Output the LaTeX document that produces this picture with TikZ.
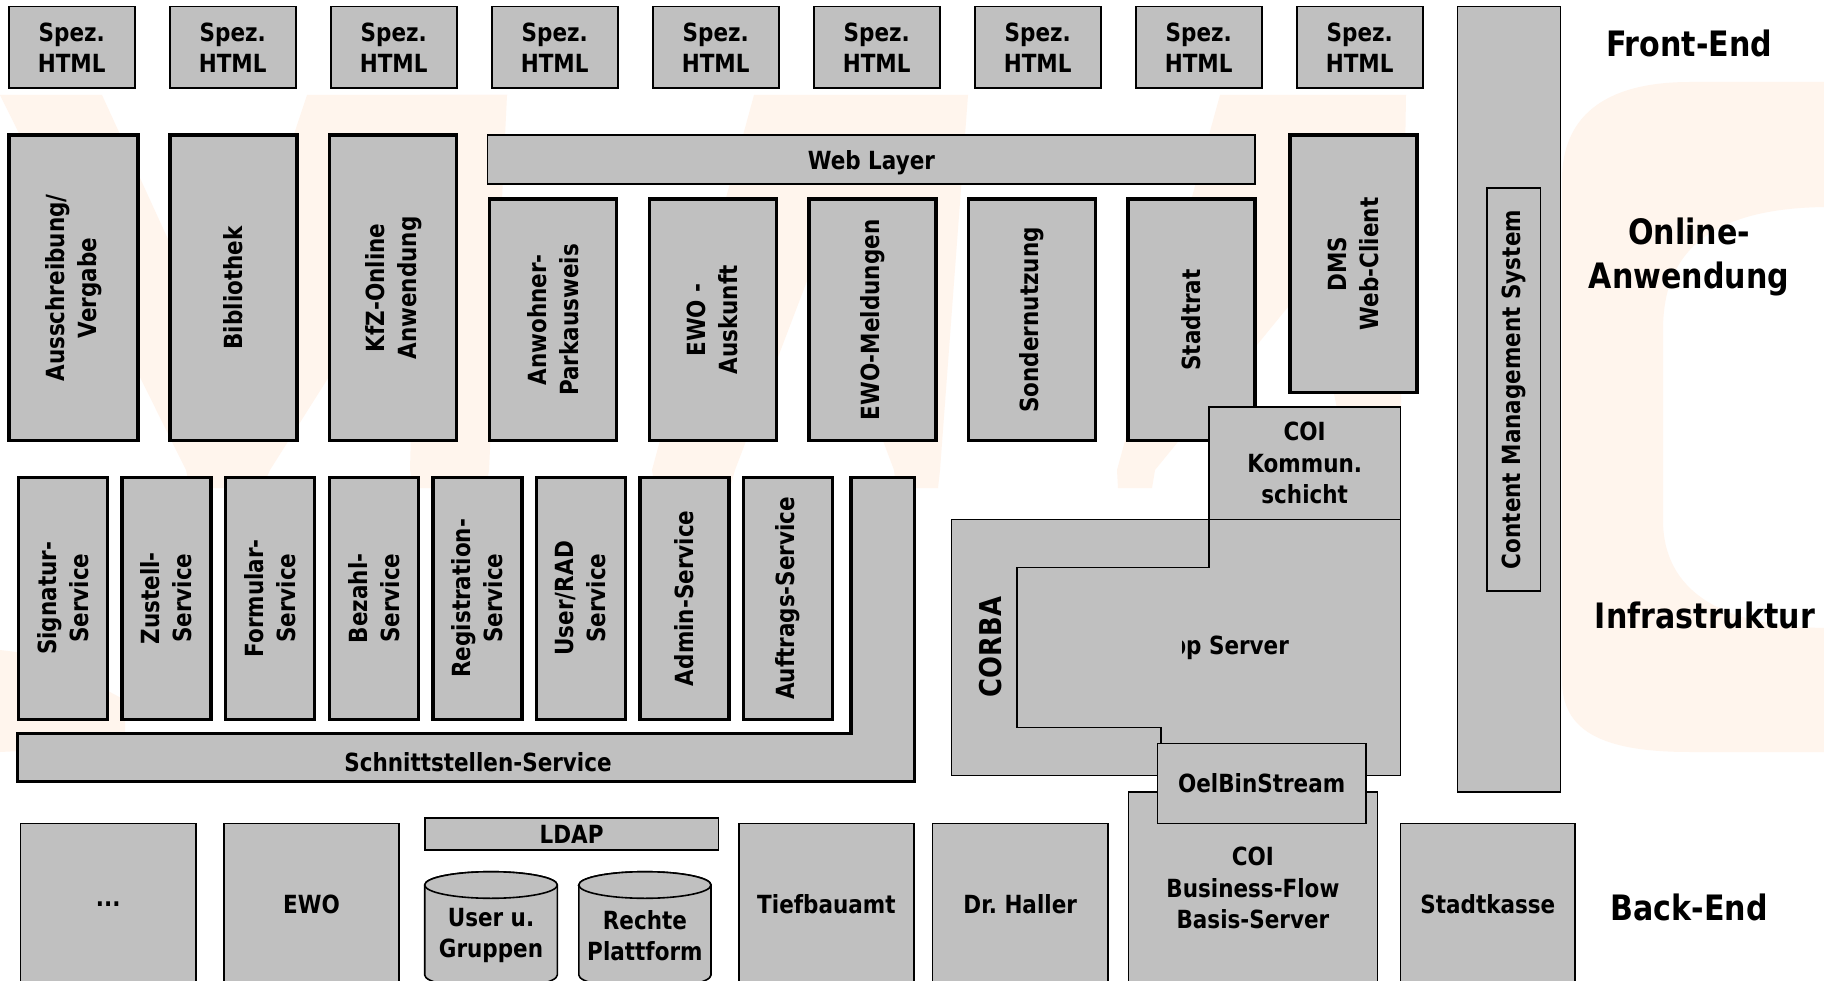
\documentclass[tikz,border=0pt]{standalone}
\usepackage{fontspec}
\newfontfamily\dvb[FakeStretch=0.86]{DejaVu Sans Bold}
\definecolor{boxgrey}{RGB}{192,192,192}
\definecolor{wmark}{RGB}{255,245,237}
\tikzset{
  base/.style={draw=black, fill=boxgrey, inner sep=0pt, align=center,
    font=\dvb\fontsize{25}{31.5}\selectfont},
  thinbox/.style={base, line width=1.6pt},
  thickbox/.style={base, line width=3.5pt},
  vtext/.style={rotate=90, align=center, inner sep=0pt,
    font=\dvb\fontsize{25}{32}\selectfont},
  htext/.style={align=center, inner sep=0pt,
    font=\dvb\fontsize{25}{31.5}\selectfont},
  layerlabel/.style={align=center, inner sep=0pt,
    font=\dvb\fontsize{35}{44}\selectfont},
  thinline/.style={draw=black, fill=boxgrey, line width=1.6pt},
  thickline/.style={draw=black, fill=boxgrey, line width=3.5pt},
}
\begin{document}
\begin{tikzpicture}[x=1pt,y=-1pt]
\useasboundingbox (0,0) rectangle (1824,981);
\clip (0,0) rectangle (1824,981);
\fill[white] (0,0) rectangle (1824,981);

% ---------- watermark ----------
\fill[wmark] (0,95) -- (102,95) -- (221,355) -- (307,95) -- (507,95) -- (270,470)
  -- (262,488) -- (190,488) -- (186,470) -- cycle;
\fill[wmark] (0,650) -- (40,655) -- (125,700) -- (125,740) -- (40,750) -- (0,752) -- cycle;
\fill[wmark] (420,95) -- (507,95) -- (489,470) -- (486,488) -- (414,488) -- (410,470) -- cycle;
\fill[wmark] (754,95) -- (968,95) -- (940,470) -- (938,488) -- (896,488) -- (894,470)
  -- (815,260) -- (735,470) -- (730,488) -- (655,488) -- (652,470) -- cycle;
\fill[wmark] (1220,95) -- (1406,95) -- (1400,470) -- (1398,488) -- (1352,488) -- (1350,470)
  -- (1310,280) -- (1155,470) -- (1152,488) -- (1118,488) -- (1117,470) -- cycle;
\fill[wmark, even odd rule]
  (1900,82) -- (1690,82) .. controls (1600,82) and (1562,120) .. (1562,180)
  -- (1562,680) .. controls (1562,730) and (1600,752) .. (1690,752) -- (1900,752) -- cycle
  (1900,207) -- (1830,207) .. controls (1700,207) and (1663,260) .. (1663,330)
  -- (1663,520) .. controls (1663,590) and (1720,628) .. (1830,628) -- (1900,628) -- cycle;

% ---------- Front-End row ----------
\foreach \i in {0,...,8} {
  \node[thinbox, minimum width=126pt, minimum height=81.6pt] (spez\i)
    at ({71.7+161*\i},47.5) {Spez.\\HTML};
}

% ---------- CMS ----------
\node[thinbox, minimum width=103pt, minimum height=785pt] (cms) at (1509.1,399.2) {};
\node[thinbox, minimum width=53.6pt, minimum height=402.4pt] (cmsin) at (1513.5,389.5) {};
\node[vtext] (cmst) at (cmsin.center) {Content Management System};

% ---------- Online applications ----------
\node[thickbox, minimum width=129pt, minimum height=305.7pt] (ausb) at (73.3,287.9) {};
\node[vtext] (ausbt) at (ausb.center) {Ausschreibung/\\Vergabe};
\node[thickbox, minimum width=127pt, minimum height=305.7pt] (bib) at (233.3,287.9) {};
\node[vtext] (bibt) at (bib.center) {Bibliothek};
\node[thickbox, minimum width=127pt, minimum height=305.7pt] (kfz) at (393.2,287.9) {};
\node[vtext] (kfzt) at (kfz.center) {KfZ-Online\\Anwendung};

\node[thinbox, minimum width=767.7pt, minimum height=49pt] (web) at (871.4,159.5) {};
\node[htext] (webt) at (871.4,163) {Web Layer};

\node[thickbox, minimum width=127pt, minimum height=241.7pt] (anw) at (553.2,319.9) {};
\node[vtext] (anwt) at (anw.center) {Anwohner-\\Parkausweis};
\node[thickbox, minimum width=127pt, minimum height=241.7pt] (ewoa) at (712.8,319.9) {};
\node[vtext] (ewoat) at (ewoa.center) {EWO -\\Auskunft};
\node[thickbox, minimum width=127pt, minimum height=241.7pt] (ewom) at (872.4,319.9) {};
\node[vtext] (ewomt) at (ewom.center) {EWO-Meldungen};
\node[thickbox, minimum width=127pt, minimum height=241.7pt] (sond) at (1032,319.9) {};
\node[vtext] (sondt) at (sond.center) {Sondernutzung};
\node[thickbox, minimum width=127pt, minimum height=241.7pt] (stadt) at (1191.6,319.9) {};
\node[vtext] (stadtt) at (stadt.center) {Stadtrat};

\node[thickbox, minimum width=127pt, minimum height=257.7pt] (dms) at (1353.5,263.9) {};
\node[vtext] (dmst) at (dms.center) {DMS\\Web-Client};

% ---------- Infrastructure ----------
\node[thinbox, minimum width=191.9pt, minimum height=112pt] (coik) at (1304.7,463.3)
  {COI\\Kommun.\\schicht};

\foreach \i/\t in {0/{Signatur-\\Service}, 1/{Zustell-\\Service}, 2/{Formular-\\Service},
  3/{Bezahl-\\Service}, 4/{Registration-\\Service}, 5/{User/RAD\\Service},
  6/{Admin-Service}, 7/{Auftrags-Service}} {
  \node[thickbox, minimum width=89pt, minimum height=242pt] (svc\i)
    at ({63.1+103.55*\i},598.3) {};
  \node[vtext] (svct\i) at (svc\i.center) {\t};
}

\draw[thickline] (17.5,733.3) -- (851.1,733.3) -- (851.1,477.3) -- (914.4,477.3)
  -- (914.4,781.7) -- (17.5,781.7) -- cycle;
\node[htext] (schnitt) at (478,762.5) {Schnittstellen-Service};

\node[thinbox, minimum width=449pt, minimum height=256pt] (corba) at (1176.1,647.3) {};
\node[vtext, font=\dvb\fontsize{30}{36}\selectfont] (corbat) at (991,647) {CORBA};

\draw[thinline] (1208.7,519.3) -- (1208.7,567.3) -- (1016.7,567.3) -- (1016.7,727.3)
  -- (1161,727.3) -- (1161,775.3) -- (1400.6,775.3) -- (1400.6,519.3) -- cycle;
\begin{scope}
  \clip (1182,610) rectangle (1400,690);
  \node[htext] (appsrv) at (1221.5,648) {App Server};
\end{scope}

% ---------- Back-End ----------
\node[thinbox, minimum width=249pt, minimum height=199.3pt] (coib) at (1252.9,891.4) {};
\node[htext] (coibt) at (1252.9,888) {COI\\Business-Flow\\Basis-Server};
\node[thinbox, minimum width=208.2pt, minimum height=80pt] (oel) at (1261.6,783.3) {OelBinStream};

\node[thinbox, minimum width=175.6pt, minimum height=161.4pt] (dots) at (108.2,904) {...};
\node[thinbox, minimum width=175pt, minimum height=161.4pt] (ewo) at (311.5,904) {EWO};
\node[thinbox, minimum width=175.2pt, minimum height=161.4pt] (tief) at (826.4,904) {Tiefbauamt};
\node[thinbox, minimum width=175.6pt, minimum height=161.4pt] (haller) at (1020.2,904) {Dr.\ Haller};
\node[thinbox, minimum width=174.4pt, minimum height=161.4pt] (kasse) at (1487.8,904) {Stadtkasse};

\node[thinbox, minimum width=293.7pt, minimum height=32.3pt] (ldap) at (571.6,833.9) {LDAP};

\draw[thinline] (424.7,885) -- (424.7,975) arc[start angle=180, end angle=360, x radius=66.3pt, y radius=13.3pt]
  -- (557.3,885) arc[start angle=0, end angle=180, x radius=66.3pt, y radius=13.3pt] -- cycle;
\draw[thinline] (491,885) ellipse [x radius=66.3pt, y radius=13.3pt];
\node[htext] (usr) at (491,935.5) {User u.\\Gruppen};

\draw[thinline] (578.8,885) -- (578.8,975) arc[start angle=180, end angle=360, x radius=66.1pt, y radius=13.3pt]
  -- (711,885) arc[start angle=0, end angle=180, x radius=66.1pt, y radius=13.3pt] -- cycle;
\draw[thinline] (644.9,885) ellipse [x radius=66.1pt, y radius=13.3pt];
\node[htext] (rechte) at (644.9,935.5) {Rechte\\Plattform};

% ---------- layer labels ----------
\node[layerlabel] (fe) at (1689,43) {Front-End};
\node[layerlabel] (oa) at (1689,257) {Online-\\Anwendung};
\node[layerlabel] (inf) at (1705,615) {Infrastruktur};
\node[layerlabel] (be) at (1689,907) {Back-End};
\end{tikzpicture}
\end{document}
